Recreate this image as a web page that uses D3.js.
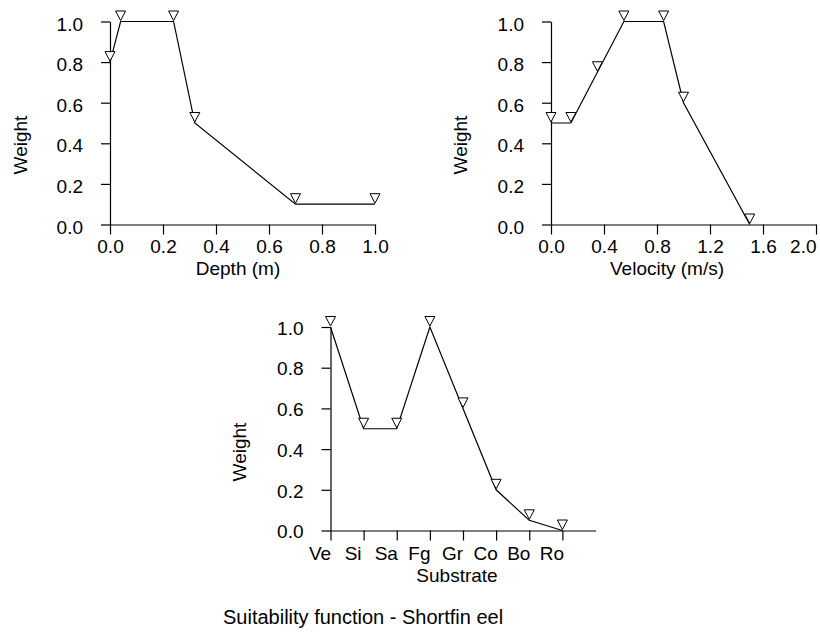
<!DOCTYPE html>
<html lang="en">
<head>
<meta charset="UTF-8">
<title>Suitability function - Shortfin eel</title>
<script src="https://d3js.org/d3.v7.min.js"></script>
<style>
    body{ margin:0; background:#fff; }
    text{ font-family:"Liberation Sans", Arial, sans-serif; fill:#000; }
</style>
</head>
<body>
<script>
// data
var depthX = [0.0, 0.04, 0.24, 0.32, 0.70, 1.0];
var depthW = [0.8, 1.0, 1.0, 0.5, 0.1, 0.1];
var velX = [0.0, 0.15, 0.35, 0.55, 0.85, 1.0, 1.5];
var velW = [0.5, 0.5, 0.75, 1.0, 1.0, 0.6, 0.0];
var substrates = ["Ve", "Si", "Sa", "Fg", "Gr", "Co", "Bo", "Ro"];
var subW = [1.0, 0.5, 0.5, 1.0, 0.6, 0.2, 0.05, 0.0];
var weightTicks = [0, 0.2, 0.4, 0.6, 0.8, 1.0];
var depthTicks = [0, 0.2, 0.4, 0.6, 0.8, 1.0];
var velTicks = [0, 0.4, 0.8, 1.2, 1.6, 2.0];
var caption = "Suitability function - Shortfin eel";

var width = 820, height = 633;
var svg = d3.select("body").append("svg")
    .attr("width", width)
    .attr("height", height);

var fmt = d3.format(".1f");

// one panel: x/y scales, axes, line and triangle markers
function panel(o){
    var x = d3.scaleLinear().domain(o.xDomain).range(o.xRange);
    var y = d3.scaleLinear().domain([0, 1]).range(o.yRange);
    var g = svg.append("g");

    var xa = g.append("g")
        .attr("transform", "translate(0," + o.yRange[0] + ")")
        .call(d3.axisBottom(x).tickValues(o.xTicks)
            .tickFormat(o.xFormat).tickSize(10).tickSizeOuter(0).tickPadding(o.pad));
    var ya = g.append("g")
        .attr("transform", "translate(" + o.xRange[0] + ",0)")
        .call(d3.axisLeft(y).tickValues(weightTicks)
            .tickFormat(fmt).tickSize(9).tickSizeOuter(0).tickPadding(18));

    [xa, ya].forEach(function(a){
        a.select(".domain").attr("stroke", "#000").attr("stroke-width", 1.2);
        a.selectAll(".tick line").attr("stroke", "#000").attr("stroke-width", 1.2);
        a.selectAll("text").attr("font-size", 19).attr("font-family", null);
    });
    ya.selectAll("text").attr("dy", o.yDy);
    xa.selectAll("text").attr("dx", o.xDx || 0);
    if(o.lastEnd){
        xa.selectAll(".tick:last-of-type text").attr("text-anchor", "end").attr("dx", 0);
    }

    var pts = o.xs.map(function(v, i){ return [v, o.ws[i]]; });
    g.append("path")
        .datum(pts)
        .attr("fill", "none")
        .attr("stroke", "#000")
        .attr("stroke-width", 1.2)
        .attr("d", d3.line().x(function(d){ return x(d[0]); }).y(function(d){ return y(d[1]); }));

    g.selectAll(".mark")
        .data(pts)
        .enter().append("path")
        .attr("class", "mark")
        .attr("transform", function(d){ return "translate(" + x(d[0]) + "," + y(d[1]) + ")"; })
        .attr("d", "M-5,-10.5L5,-10.5L0,-1Z")
        .attr("fill", "#fff")
        .attr("stroke", "#000")
        .attr("stroke-width", 1);

    g.append("text")
        .attr("x", o.titleX)
        .attr("y", o.yRange[0] + o.titleOff)
        .attr("text-anchor", "middle")
        .attr("font-size", 19)
        .text(o.xTitle);

    g.append("text")
        .attr("transform", "translate(" + o.wX + "," + o.wY + ") rotate(-90)")
        .attr("text-anchor", "middle")
        .attr("font-size", 19)
        .text("Weight");
}

panel({
    xDomain: [0, 1], xRange: [110, 375], yRange: [224.5, 21.5],
    xTicks: depthTicks, xFormat: fmt, xs: depthX, ws: depthW, pad: 5,
    xTitle: "Depth (m)", titleX: 238, titleOff: 50, wX: 27, wY: 145, yDy: "0.45em"
});

panel({
    xDomain: [0, 2], xRange: [551, 816], yRange: [224.5, 21.5],
    xTicks: velTicks, xFormat: fmt, xs: velX, ws: velW, lastEnd: true, pad: 5,
    xTitle: "Velocity (m/s)", titleX: 667, titleOff: 50, wX: 467, wY: 145, yDy: "0.45em"
});

panel({
    xDomain: [0, 8], xRange: [330.5, 595.5], yRange: [530.5, 327],
    xTicks: d3.range(substrates.length),
    xFormat: function(i){ return substrates[i]; },
    xDx: -11, pad: 6,
    xs: d3.range(substrates.length), ws: subW,
    xTitle: "Substrate", titleX: 457, titleOff: 51, wX: 246, wY: 452, yDy: "0.38em"
});

svg.append("text")
    .attr("x", 223)
    .attr("y", 624)
    .attr("font-size", 20)
    .text(caption);
</script>
</body>
</html>
